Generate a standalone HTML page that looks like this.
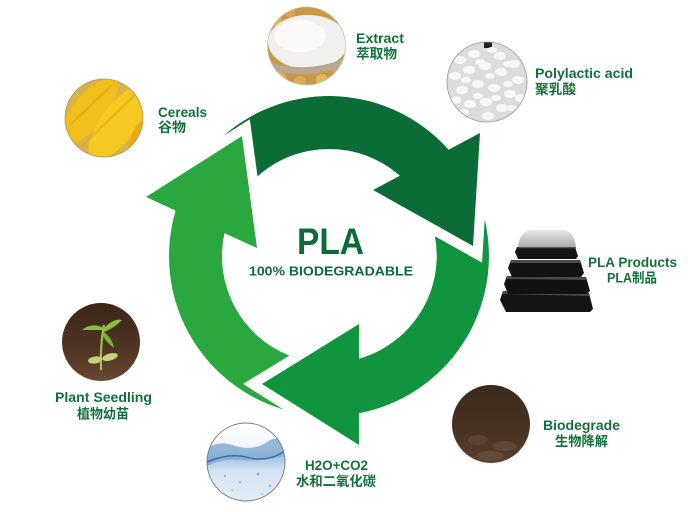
<!DOCTYPE html>
<html>
<head>
<meta charset="utf-8">
<style>
  html,body{margin:0;padding:0;background:#ffffff;}
  svg{display:block;}
  .lb{font-family:"Liberation Sans","Noto Sans CJK SC",sans-serif;font-weight:bold;fill:#13703d;}
</style>
</head>
<body>
<svg width="698" height="512" viewBox="0 0 698 512" xmlns="http://www.w3.org/2000/svg">
  <defs>
    <clipPath id="cExt"><circle cx="306.5" cy="46" r="39"/></clipPath>
    <clipPath id="cPol"><circle cx="487" cy="82" r="40"/></clipPath>
    <clipPath id="cCer"><circle cx="104" cy="118" r="39"/></clipPath>
    <clipPath id="cSee"><circle cx="101" cy="342" r="39"/></clipPath>
    <clipPath id="cH2o"><circle cx="246" cy="462" r="39"/></clipPath>
    <clipPath id="cBio"><circle cx="491" cy="424" r="39"/></clipPath>
    <linearGradient id="gSoil" x1="0" y1="0" x2="0" y2="1">
      <stop offset="0" stop-color="#3a2618"/>
      <stop offset="0.55" stop-color="#4e3322"/>
      <stop offset="1" stop-color="#6a4a32"/>
    </linearGradient>
    <linearGradient id="gSoil2" x1="0" y1="0" x2="0" y2="1">
      <stop offset="0" stop-color="#3b2a1c"/>
      <stop offset="0.6" stop-color="#4a3322"/>
      <stop offset="1" stop-color="#5e4330"/>
    </linearGradient>
    <linearGradient id="gWater" x1="0" y1="0" x2="0" y2="1">
      <stop offset="0" stop-color="#ffffff"/>
      <stop offset="0.3" stop-color="#f4f8fc"/>
      <stop offset="0.45" stop-color="#a9c6e3"/>
      <stop offset="0.6" stop-color="#d3e3f2"/>
      <stop offset="1" stop-color="#e6eff8"/>
    </linearGradient>
    <linearGradient id="gLid" x1="0" y1="0" x2="0" y2="1">
      <stop offset="0" stop-color="#e2e4e5"/>
      <stop offset="1" stop-color="#9a9d9f"/>
    </linearGradient>
  </defs>

  <!-- ===== Cycle arrows ===== -->
  <path fill="#2aa83f" d="M 289.3,355.6 L 243.1,383.9 L 283.4,409.5 A 160 160 0 0 1 175.6,210.6 L 146,197 L 242,136 L 257,248 L 224.5,233.1 A 107 107 0 0 0 289.3,355.6 Z"/>
  <path fill="#0c6c37" d="M 223.3,136 A 160 160 0 0 1 448.6,149.7 L 480,133 L 473,246 L 373,190 L 399.8,175.7 A 107 107 0 0 0 257.5,176.4 L 249.8,119.2 Z"/>
  <path fill="#10943e" d="M 434.9,236.2 L 482,262.6 L 484.7,219.5 A 160 160 0 0 1 359,413.2 L 359,445 L 262,384 L 359,324 L 359,358.7 A 107 107 0 0 0 434.9,236.2 Z"/>

  <!-- center text -->
  <text x="297" y="254" font-size="37" textLength="67" lengthAdjust="spacingAndGlyphs" style="font-family:'Liberation Sans',sans-serif;font-weight:bold;fill:#0d6b38;">PLA</text>
  <text x="249" y="275.5" font-size="12.5" textLength="164" lengthAdjust="spacingAndGlyphs" style="font-family:'Liberation Sans',sans-serif;font-weight:bold;fill:#0d6b38;">100% BIODEGRADABLE</text>

  <!-- ===== Extract image ===== -->
  <g clip-path="url(#cExt)">
    <rect x="260" y="0" width="95" height="90" fill="#c9994a"/>
    <circle cx="275" cy="20" r="6" fill="#e0b560"/>
    <circle cx="290" cy="12" r="5" fill="#d6a852"/>
    <circle cx="280" cy="78" r="6" fill="#deb25a"/>
    <circle cx="300" cy="82" r="6" fill="#d8aa55"/>
    <circle cx="322" cy="80" r="6" fill="#e2b862"/>
    <circle cx="338" cy="70" r="5" fill="#d4a450"/>
    <ellipse cx="308" cy="42" rx="40" ry="27" fill="#f2f0ec"/>
    <ellipse cx="300" cy="36" rx="26" ry="16" fill="#fbfaf8"/>
    <path d="M270,62 Q306,74 346,58 L346,66 Q306,80 270,70 Z" fill="#b8a890"/>
  </g>
  <circle cx="306.5" cy="46" r="39" fill="none" stroke="#c8c0b0" stroke-width="0.8"/>

  <!-- ===== Polylactic acid image ===== -->
  <g clip-path="url(#cPol)">
    <rect x="445" y="40" width="85" height="85" fill="#dcdcdc"/>
    <rect x="484" y="42" width="8" height="6" fill="#222"/>
    <g fill="#f7f7f7">
      <ellipse cx="460" cy="60" rx="6" ry="4"/><ellipse cx="474" cy="54" rx="6" ry="4"/>
      <ellipse cx="500" cy="56" rx="6" ry="4"/><ellipse cx="514" cy="64" rx="6" ry="4"/>
      <ellipse cx="455" cy="76" rx="6" ry="4"/><ellipse cx="469" cy="70" rx="6" ry="4"/>
      <ellipse cx="485" cy="66" rx="6" ry="4"/><ellipse cx="501" cy="72" rx="6" ry="4"/>
      <ellipse cx="518" cy="80" rx="6" ry="4"/><ellipse cx="462" cy="90" rx="6" ry="4"/>
      <ellipse cx="478" cy="84" rx="6" ry="4"/><ellipse cx="494" cy="88" rx="6" ry="4"/>
      <ellipse cx="510" cy="94" rx="6" ry="4"/><ellipse cx="470" cy="104" rx="6" ry="4"/>
      <ellipse cx="486" cy="102" rx="6" ry="4"/><ellipse cx="502" cy="108" rx="6" ry="4"/>
      <ellipse cx="456" cy="100" rx="5" ry="4"/><ellipse cx="520" cy="98" rx="5" ry="4"/>
      <ellipse cx="488" cy="116" rx="6" ry="4"/><ellipse cx="492" cy="50" rx="5" ry="3"/>
      <ellipse cx="466" cy="80" rx="5" ry="3"/><ellipse cx="490" cy="76" rx="5" ry="3"/>
      <ellipse cx="508" cy="84" rx="5" ry="3"/><ellipse cx="478" cy="96" rx="5" ry="3"/>
      <ellipse cx="496" cy="98" rx="5" ry="3"/><ellipse cx="480" cy="62" rx="5" ry="3"/>
      <ellipse cx="508" cy="64" rx="5" ry="3"/><ellipse cx="464" cy="112" rx="5" ry="3"/>
      <ellipse cx="512" cy="108" rx="5" ry="3"/>
    </g>
  </g>
  <circle cx="487" cy="82" r="40" fill="none" stroke="#9a9a9a" stroke-width="0.8"/>

  <!-- ===== Cereals image ===== -->
  <g clip-path="url(#cCer)">
    <rect x="60" y="75" width="90" height="90" fill="#d9b24a"/>
    <ellipse cx="88" cy="112" rx="16" ry="42" transform="rotate(40 88 112)" fill="#f2be1c"/>
    <ellipse cx="120" cy="122" rx="18" ry="46" transform="rotate(38 120 122)" fill="#f7c822"/>
    <ellipse cx="138" cy="140" rx="8" ry="20" transform="rotate(20 138 140)" fill="#e9a916"/>
    <path d="M78,150 L140,90" stroke="#e0a614" stroke-width="2" opacity="0.6"/>
    <path d="M70,125 L112,85" stroke="#d9a014" stroke-width="2" opacity="0.5"/>
  </g>
  <circle cx="104" cy="118" r="39" fill="none" stroke="#b09060" stroke-width="0.8"/>

  <!-- ===== Seedling image ===== -->
  <g clip-path="url(#cSee)">
    <rect x="60" y="300" width="85" height="85" fill="url(#gSoil)"/>
    <path d="M101,370 Q100,345 104,325" stroke="#9bc24a" stroke-width="2.2" fill="none"/>
    <path d="M104,328 Q92,322 82,330 Q94,330 104,330 Z" fill="#8cbf3c"/>
    <path d="M104,328 Q114,318 122,320 Q114,328 104,332 Z" fill="#8cbf3c"/>
    <path d="M104,332 Q112,338 114,348 Q106,342 103,336 Z" fill="#7cb036"/>
    <ellipse cx="95" cy="360" rx="7" ry="3.5" fill="#c4d47a" transform="rotate(-10 95 360)"/>
    <ellipse cx="110" cy="357" rx="8" ry="3.5" fill="#c4d47a" transform="rotate(-15 110 357)"/>
  </g>

  <!-- ===== H2O image ===== -->
  <g clip-path="url(#cH2o)">
    <rect x="205" y="420" width="85" height="85" fill="url(#gWater)"/>
    <path d="M207,448 Q220,440 235,446 Q255,452 270,440 Q280,436 286,440 L286,456 Q260,462 240,460 Q222,458 207,466 Z" fill="#7fa8d2" opacity="0.8"/>
    <path d="M207,462 Q230,452 250,458 Q270,462 286,450" stroke="#3f6e9e" stroke-width="1.4" fill="none"/>
    <g fill="#7ea6cf">
      <circle cx="225" cy="476" r="1"/><circle cx="240" cy="482" r="1"/><circle cx="258" cy="474" r="1.2"/>
      <circle cx="270" cy="486" r="1"/><circle cx="232" cy="490" r="0.8"/><circle cx="262" cy="494" r="0.8"/>
    </g>
  </g>
  <circle cx="246" cy="462" r="39" fill="none" stroke="#777" stroke-width="0.9"/>

  <!-- ===== Biodegrade image ===== -->
  <g clip-path="url(#cBio)">
    <rect x="450" y="383" width="85" height="85" fill="url(#gSoil2)"/>
    <ellipse cx="478" cy="440" rx="10" ry="5" fill="#5c4230"/>
    <ellipse cx="505" cy="446" rx="12" ry="5" fill="#604634"/>
    <ellipse cx="490" cy="456" rx="14" ry="5" fill="#654a36"/>
  </g>

  <!-- ===== PLA Products trays ===== -->
  <g>
    <!-- bottom tray -->
    <path d="M503,291 L589,293 L593,309 L590,312 L506,312 L500,300 Z" fill="#151515"/>
    <path d="M503,291 L589,293 L590,296 L503,294 Z" fill="#4a4a4a"/>
    <!-- third tray -->
    <path d="M507,276 L586,277 L590,291 L587,294 L508,294 L504,284 Z" fill="#111"/>
    <path d="M507,276 L586,277 L587,280 L507,279 Z" fill="#484848"/>
    <!-- second tray -->
    <path d="M511,260 L580,260 L584,273 L581,277 L512,277 L508,268 Z" fill="#121212"/>
    <path d="M511,260 L580,260 L581,263 L511,263 Z" fill="#4a4a4a"/>
    <!-- top tray -->
    <path d="M517,247 L575,247 L578,256 L576,259 L518,259 L515,252 Z" fill="#141414"/>
    <!-- lid dome -->
    <path d="M518,248 Q519,233 530,230 L565,230 Q575,233 576,248 Z" fill="url(#gLid)" opacity="0.9"/>
    <path d="M518,248 L576,248" stroke="#333" stroke-width="1.2"/>
  </g>

  <!-- ===== Labels ===== -->
  <text class="lb" x="356" y="43" font-size="14" textLength="48" lengthAdjust="spacingAndGlyphs">Extract</text>
  <text class="lb" x="356" y="58.5" font-size="13.5" textLength="41" lengthAdjust="spacingAndGlyphs">萃取物</text>

  <text class="lb" x="535" y="78" font-size="14" textLength="98" lengthAdjust="spacingAndGlyphs">Polylactic acid</text>
  <text class="lb" x="535" y="94" font-size="13.5" textLength="41" lengthAdjust="spacingAndGlyphs">聚乳酸</text>

  <text class="lb" x="158" y="117" font-size="14" textLength="49" lengthAdjust="spacingAndGlyphs">Cereals</text>
  <text class="lb" x="158" y="132" font-size="13.5" textLength="28" lengthAdjust="spacingAndGlyphs">谷物</text>

  <text class="lb" x="588" y="267" font-size="14" textLength="89" lengthAdjust="spacingAndGlyphs">PLA Products</text>
  <text class="lb" x="607" y="282.5" font-size="13.5" textLength="50" lengthAdjust="spacingAndGlyphs">PLA制品</text>

  <text class="lb" x="55" y="402" font-size="14" textLength="97" lengthAdjust="spacingAndGlyphs">Plant Seedling</text>
  <text class="lb" x="77" y="418.5" font-size="13.5" textLength="52" lengthAdjust="spacingAndGlyphs">植物幼苗</text>

  <text class="lb" x="305" y="470" font-size="14" textLength="63" lengthAdjust="spacingAndGlyphs">H2O+CO2</text>
  <text class="lb" x="296" y="486" font-size="13.5" textLength="80" lengthAdjust="spacingAndGlyphs">水和二氧化碳</text>

  <text class="lb" x="543" y="430" font-size="14" textLength="77" lengthAdjust="spacingAndGlyphs">Biodegrade</text>
  <text class="lb" x="555" y="446" font-size="13.5" textLength="53" lengthAdjust="spacingAndGlyphs">生物降解</text>
</svg>
</body>
</html>
